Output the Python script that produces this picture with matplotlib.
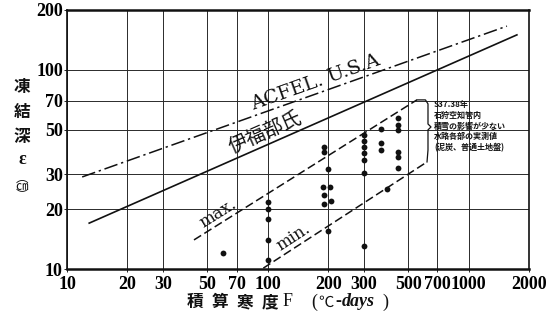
import math
import matplotlib
matplotlib.use("Agg")
import matplotlib.pyplot as plt
from matplotlib.ticker import FixedLocator, NullLocator

# ---- data ----
x_ticks = [10, 20, 30, 50, 70, 100, 200, 300, 500, 700, 1000, 2000]
x_tick_labels = ["10", "20", "30", "50", "70", "100", "200", "300", "500", "700", "1000", "2000"]
y_ticks = [10, 20, 30, 50, 70, 100, 200]
y_tick_labels = ["10", "20", "30", "50", "70", "100", "200"]

# ACFEL (U.S.A) curve and 伊福部氏 curve
acfel_x = [11.9, 1553]
acfel_y = [29.0, 166]
ifukube_x = [12.9, 1741]
ifukube_y = [17.0, 150]

# envelope of the measurements
max_x = [42.9, 553]
max_y = [14.0, 70.7]
min_x = [95, 621]
min_y = [10.1, 34.5]

# brace grouping the measured range
brace_x = [553, 610, 628, 628, 650, 628, 628, 621]
brace_y = [70.7, 70.7, 67.5, 53.5, 51.7, 50.0, 39.6, 34.5]

# measured frost depths (S37, S38)
obs_F = [60,
         100, 100, 100, 100, 100,
         200, 190, 190, 188, 205, 190, 206, 190, 199,
         300, 300, 300, 300, 300, 300, 300,
         394, 366, 366, 366,
         447, 447, 447, 447, 447, 447]
obs_depth = [12.0,
             21.8, 20.0, 17.8, 14.0, 11.1,
             31.8, 41.2, 38.8, 25.9, 25.9, 23.4, 21.9, 21.1, 15.6,
             47.1, 44.0, 41.1, 38.3, 35.3, 30.4, 13.0,
             25.2, 50.3, 43.1, 39.6,
             57.2, 52.9, 50.0, 38.8, 36.6, 32.1]

W, H = 553, 320
fig = plt.figure(figsize=(W / 100, H / 100), dpi=100)
ax = fig.add_axes([67 / W, (H - 269) / H, 462 / W, 259 / H])
ax.set_xscale("log")
ax.set_yscale("log")
ax.set_xlim(10, 2000)
ax.set_ylim(10, 200)

serif_b = dict(family="Liberation Serif", weight="bold", size=13)
ax.xaxis.set_major_locator(FixedLocator(x_ticks))
ax.yaxis.set_major_locator(FixedLocator(y_ticks))
ax.xaxis.set_minor_locator(NullLocator())
ax.yaxis.set_minor_locator(NullLocator())
ax.set_xticklabels(x_tick_labels, fontdict=serif_b)
ax.set_yticklabels(y_tick_labels, fontdict=serif_b)
ax.tick_params(axis="both", length=2, width=0.7, color="#222")
ax.tick_params(axis="x", pad=3)
ax.tick_params(axis="y", pad=1)

ax.grid(True, which="major", color="#2a2a2a", lw=0.7)
ax.set_axisbelow(True)
for side, lw in (("top", 1.8), ("bottom", 1.8), ("left", 1.2), ("right", 1.2)):
    ax.spines[side].set_linewidth(lw)
    ax.spines[side].set_color("#111")

ink = "#111111"
ax.plot(acfel_x, acfel_y, color=ink, lw=1.1, dashes=(9, 2.5, 1.5, 2.5))
ax.plot(ifukube_x, ifukube_y, color=ink, lw=1.2)
ax.plot(max_x, max_y, color=ink, lw=1.1, dashes=(5.5, 2.5))
ax.plot(min_x, min_y, color=ink, lw=1.1, dashes=(5.5, 2.5))
ax.plot(brace_x, brace_y, color=ink, lw=0.9)
ax.plot(obs_F, obs_depth, "o", color=ink, ms=4.2, mew=0)


def px(x, y):
    return x / W, 1 - y / H


def label_on_line(xs, ys, at_x, text, offset_px, **kw):
    """Place text parallel to a straight log-log line, offset above it."""
    t = (math.log10(at_x) - math.log10(xs[0])) / (math.log10(xs[1]) - math.log10(xs[0]))
    at_y = 10 ** (math.log10(ys[0]) + t * (math.log10(ys[1]) - math.log10(ys[0])))
    p0 = ax.transData.transform((xs[0], ys[0]))
    p1 = ax.transData.transform((xs[1], ys[1]))
    ang = math.atan2(p1[1] - p0[1], p1[0] - p0[0])
    dx = -math.sin(ang) * offset_px * 72 / fig.dpi
    dy = math.cos(ang) * offset_px * 72 / fig.dpi
    ax.annotate(text, (at_x, at_y), xytext=(dx, dy), textcoords="offset points",
                rotation=math.degrees(ang), rotation_mode="anchor",
                ha="center", va="baseline", color=ink, **kw)


label_on_line(acfel_x, acfel_y, 180, "ACFEL. U.S.A", 6,
              family="DejaVu Serif", size=14)
label_on_line(ifukube_x, ifukube_y, 103, "伊福部氏", 7,
              family="Noto Sans CJK JP", size=14)
label_on_line(max_x, max_y, 60, "max.", 5, family="DejaVu Serif", size=12)
label_on_line(min_x, min_y, 142, "min.", 5, family="DejaVu Serif", size=12)

fig.text(*px(434, 100),
         "S37.38年\n石狩空知管内\n積雪の影響が少ない\n水路各部の実測値\n(泥炭、普通土地盤)",
         family=["Noto Sans CJK JP", "DejaVu Sans"], size=5.8, weight="bold",
         linespacing=1.25, ha="left", va="top", color=ink)

# y axis title, written vertically
for ch, yy in (("凍", 87), ("結", 112), ("深", 137)):
    fig.text(*px(22, yy), ch, family="Noto Sans CJK JP", size=12, weight="bold",
             ha="center", va="center", color=ink)
fig.text(*px(22, 160), "ε", family="Liberation Serif", size=13, weight="bold",
         ha="center", va="center", color=ink)
fig.text(*px(22, 187), "︵\n㎝\n︶", family=["Noto Sans CJK JP", "DejaVu Sans"],
         size=9, linespacing=0.55, ha="center", va="center", color=ink)

# x axis title
for ch, xx in (("積", 195), ("算", 220), ("寒", 245), ("度", 270)):
    fig.text(*px(xx, 302), ch, family="Noto Sans CJK JP", size=12, weight="bold",
             ha="center", va="center", color=ink)
fig.text(*px(288, 302), "F", family="Liberation Serif", size=13,
         ha="center", va="center", color=ink)
fig.text(*px(314, 302), "(", family="Liberation Serif", size=13,
         ha="center", va="center", color=ink)
fig.text(*px(326, 302), "℃", family=["Noto Sans CJK JP", "DejaVu Sans"], size=11,
         ha="center", va="center", color=ink)
fig.text(*px(338, 302), "-", family="Liberation Serif", size=13, weight="bold",
         ha="center", va="center", color=ink)
fig.text(*px(342, 302), "days", family="Liberation Serif", size=13, style="italic",
         weight="bold", ha="left", va="center", color=ink)
fig.text(*px(385, 302), ")", family="Liberation Serif", size=13,
         ha="center", va="center", color=ink)

fig.savefig("out.png", dpi=100)
